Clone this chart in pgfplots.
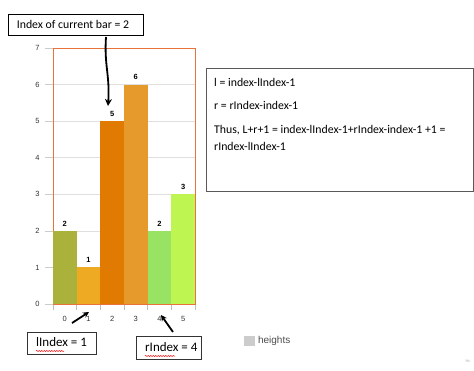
\documentclass[border=0pt]{standalone}
\usepackage{fontspec}
\setmainfont{Carlito}
\newfontfamily\chartfont{Liberation Sans}
\usepackage{pgfplots}
\pgfplotsset{compat=1.18}
\usetikzlibrary{decorations.pathmorphing,arrows.meta}
\definecolor{cA}{HTML}{AAB23C}
\definecolor{cB}{HTML}{EEAA22}
\definecolor{cC}{HTML}{E07A00}
\definecolor{cD}{HTML}{E69A2C}
\definecolor{cE}{HTML}{98E264}
\definecolor{cF}{HTML}{BEF550}
\definecolor{border}{HTML}{E8743B}
\begin{document}
\begin{tikzpicture}[x=1pt,y=1pt]
\useasboundingbox (0,0) rectangle (474,370);
\begin{axis}[
  scale only axis, width=142pt, height=256pt,
  at={(53pt,66pt)}, anchor=south west,
  xmin=-0.5, xmax=5.5, ymin=0, ymax=7,
  xtick={0,...,5}, ytick={0,...,7},
  minor xtick={-0.5,0.5,...,5.5},
  major x tick style={draw=none},
  minor x tick style={draw=gray!50, line width=0.6pt},
  minor tick length=6pt,
  ytick style={draw=gray!40, line width=0.6pt},
  major tick length=8pt,
  tick align=outside, ytick pos=left, xtick pos=bottom,
  ymajorgrids, grid style={draw=gray!25, line width=0.6pt},
  axis line style={draw=border, line width=1pt},
  /pgf/number format/assume math mode=true,
  ticklabel style={font=\chartfont\fontsize{7.5}{8}\selectfont, text=black!80},
  yticklabel style={xshift=-2pt},
  xticklabel style={yshift=-1pt},
  nodes near coords,
  every node near coord/.append style={font=\chartfont\bfseries\fontsize{7.5}{8}\selectfont, yshift=1pt},
  legend style={at={(rel axis cs:1.345,-0.143)}, anchor=west, draw=none, fill=none,
    font=\chartfont\fontsize{10}{11}\selectfont, text=black!70, inner sep=0pt,
    nodes={inner xsep=3.5pt, inner ysep=1pt}},
]
\addplot[ybar, bar width=1, bar shift=0pt, fill=cA, draw=none, forget plot] coordinates {(0,2)};
\addplot[ybar, bar width=1, bar shift=0pt, fill=cB, draw=none, forget plot] coordinates {(1,1)};
\addplot[ybar, bar width=1, bar shift=0pt, fill=cC, draw=none, forget plot] coordinates {(2,5)};
\addplot[ybar, bar width=1, bar shift=0pt, fill=cD, draw=none, forget plot] coordinates {(3,6)};
\addplot[ybar, bar width=1, bar shift=0pt, fill=cE, draw=none, forget plot] coordinates {(4,2)};
\addplot[ybar, bar width=1, bar shift=0pt, fill=cF, draw=none, forget plot] coordinates {(5,3)};
\addlegendimage{legend image code/.code={\fill[gray!40] (0pt,-4.5pt) rectangle (10pt,4.5pt);}}
\addlegendentry{heights}
\end{axis}
% annotation boxes
\draw[black, line width=0.8pt] (8,335) rectangle (143,356);
\node[font=\fontsize{11.8}{13}\selectfont] at (73,345.5) {Index of current bar = 2};
\draw[black, line width=1.8pt, -{Stealth[length=7pt,width=7pt]}] (106,333) .. controls (104,305) and (110,295) .. (108,264);
\draw[gray!70!black, line width=0.8pt] (206,179) rectangle (473,302);
\begin{scope}[every node/.style={anchor=west, font=\fontsize{11.8}{13}\selectfont, inner sep=0pt}]
\node at (214,288) {l = index-lIndex-1};
\node at (214,265) {r = rIndex-index-1};
\node at (214,240) {Thus, L+r+1 = index-lIndex-1+rIndex-index-1 +1 =};
\node at (214,224) {rIndex-lIndex-1};
\end{scope}
\draw[black!80, line width=0.8pt] (27,16) rectangle (96,38);
\node[anchor=west, inner sep=0pt, font=\fontsize{13}{14}\selectfont] at (36,27.5) {lIndex = 1};
\draw[red, line width=0.5pt, decorate, decoration={snake, amplitude=0.6pt, segment length=2.5pt}] (36,19) -- (64,19);
\draw[black!80, line width=0.8pt] (136,11) rectangle (201,34);
\node[anchor=west, inner sep=0pt, font=\fontsize{13}{14}\selectfont] at (145,22.5) {rIndex = 4};
\draw[red, line width=0.5pt, decorate, decoration={snake, amplitude=0.6pt, segment length=2.5pt}] (145,14) -- (175,14);
\draw[black, line width=1.8pt, -{Stealth[length=6pt,width=6pt]}] (72,47) -- (89,58);
\draw[black, line width=1.8pt, -{Stealth[length=6pt,width=6pt]}] (173,38) -- (161,55);
\node[font=\chartfont\fontsize{4}{5}\selectfont, text=gray!60] at (468,9) {Hc};
\end{tikzpicture}
\end{document}
